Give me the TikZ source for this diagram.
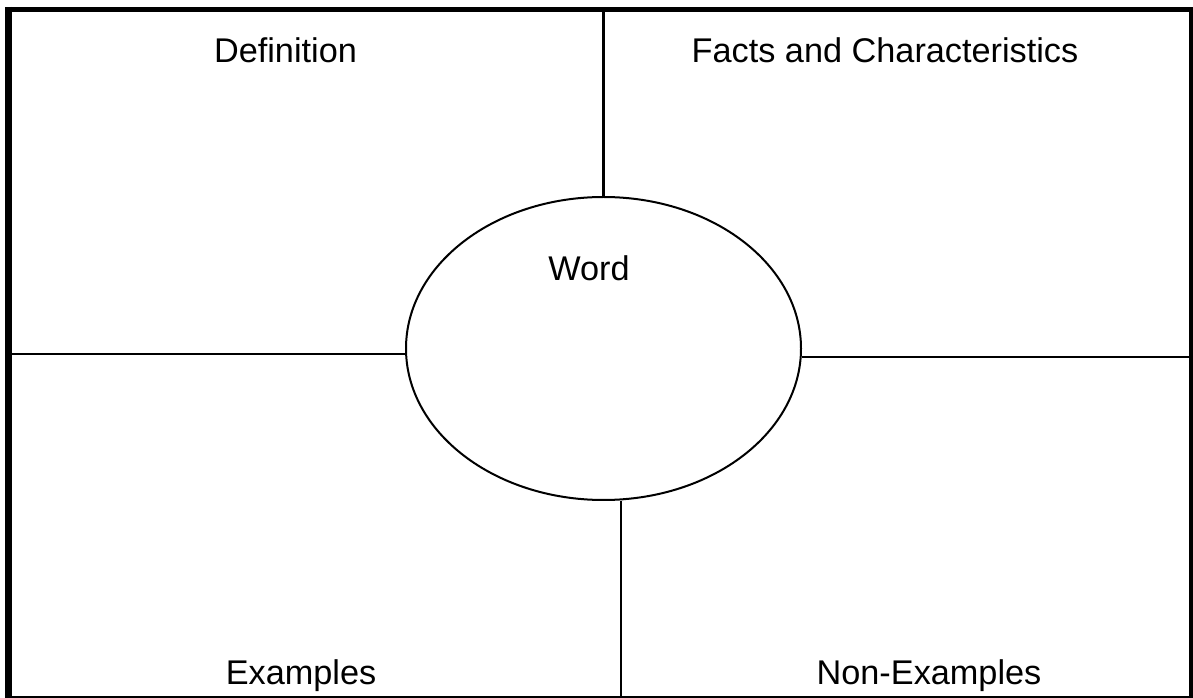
\documentclass[tikz,border=0pt]{standalone}
\usepackage{fontspec}
\setmainfont{Liberation Sans}
\usetikzlibrary{shapes.geometric}
\tikzset{
  lbl/.style={font=\fontsize{25.7}{30}\selectfont, anchor=base, inner sep=0pt},
  divider/.style={line width=2.2pt},
  wordoval/.style={draw, ellipse, line width=1.5pt, minimum width=395*0.75pt, minimum height=303*0.75pt, inner sep=0pt}
}
\begin{document}
\begin{tikzpicture}[x=0.75pt,y=-0.75pt]
\useasboundingbox (0,0) rectangle (1193,698);
% frame
\coordinate (fTL) at (5,9.5);
\coordinate (fTR) at (1193,9.5);
\coordinate (fLT) at (8.5,7);
\coordinate (fLB) at (8.5,698);
\coordinate (fRT) at (1191,7);
\coordinate (fRB) at (1191,698);
\coordinate (fBL) at (5,696.8);
\coordinate (fBR) at (1193,696.8);
\draw[line width=5.25pt] (fLT) -- (fLB);
\draw[line width=3.75pt] (fTL) -- (fTR);
\draw[line width=3.75pt] (fRT) -- (fRB);
\draw[line width=1.6pt] (fBL) -- (fBR);
% central oval
\node[wordoval] (E) at (603.5,348.5) {};
% dividers
\coordinate (topV) at (603.5,12);
\coordinate (botV) at (621,696);
\coordinate (leftH) at (12,354);
\coordinate (rightH) at (1189,357);
\draw[divider] (topV) -- (E.north);
\draw[divider] (botV) -- (E.south -| botV);
\draw[divider] (leftH) -- (E.west |- leftH);
\draw[divider] (rightH) -- (E.east |- rightH);
% labels
\node[lbl] (def) at (285.5,63) {Definition};
\node[lbl] (fac) at (885,63) {Facts and Characteristics};
\node[lbl] (word) at (589,281) {Word};
\node[lbl] (ex) at (301,684) {Examples};
\node[lbl] (nex) at (929,684) {Non-Examples};
\end{tikzpicture}
\end{document}
